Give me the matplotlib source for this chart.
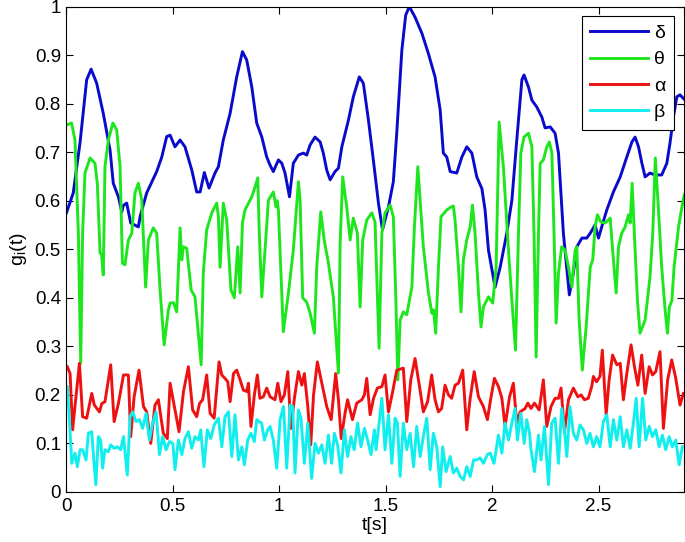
import numpy as np
import matplotlib as mpl
mpl.use("Agg")
import matplotlib.pyplot as plt

mpl.rcParams['font.family'] = ['Liberation Sans', 'DejaVu Sans']
mpl.rcParams['mathtext.default'] = 'regular'

# delta band
delta_t = [0.000, 0.032, 0.064, 0.095, 0.116, 0.142, 0.173, 0.205, 0.220, 0.244, 0.260, 0.267, 0.283,
           0.302, 0.338, 0.346, 0.377, 0.424, 0.448, 0.471, 0.487, 0.510, 0.534, 0.557, 0.589, 0.612,
           0.628, 0.648, 0.670, 0.698, 0.714, 0.737, 0.769, 0.800, 0.827, 0.847, 0.871, 0.894, 0.918,
           0.941, 0.957, 0.972, 0.996, 1.012, 1.027, 1.048, 1.066, 1.090, 1.113, 1.129, 1.145, 1.168,
           1.192, 1.207, 1.223, 1.239, 1.262, 1.278, 1.294, 1.325, 1.348, 1.376, 1.395, 1.419, 1.442,
           1.466, 1.485, 1.513, 1.536, 1.552, 1.576, 1.594, 1.611, 1.638, 1.670, 1.700, 1.732, 1.756,
           1.771, 1.787, 1.803, 1.834, 1.858, 1.881, 1.905, 1.928, 1.952, 1.967, 1.983, 2.014, 2.038,
           2.069, 2.093, 2.116, 2.140, 2.150, 2.171, 2.187, 2.210, 2.234, 2.249, 2.273, 2.296, 2.312,
           2.335, 2.363, 2.382, 2.398, 2.422, 2.445, 2.461, 2.484, 2.500, 2.515, 2.539, 2.570, 2.602,
           2.633, 2.657, 2.672, 2.688, 2.704, 2.719, 2.742, 2.766, 2.797, 2.821, 2.836, 2.852, 2.868,
           2.883, 2.900]
delta_v = [0.575, 0.616, 0.720, 0.849, 0.871, 0.842, 0.780, 0.704, 0.636, 0.608, 0.577, 0.590, 0.595,
           0.554, 0.546, 0.567, 0.616, 0.660, 0.690, 0.732, 0.735, 0.711, 0.725, 0.711, 0.663, 0.618,
           0.618, 0.658, 0.626, 0.657, 0.670, 0.725, 0.780, 0.855, 0.907, 0.890, 0.834, 0.760, 0.731,
           0.690, 0.673, 0.660, 0.684, 0.677, 0.657, 0.608, 0.677, 0.694, 0.698, 0.694, 0.715, 0.731,
           0.721, 0.698, 0.663, 0.643, 0.660, 0.667, 0.711, 0.766, 0.814, 0.855, 0.842, 0.766, 0.684,
           0.595, 0.540, 0.587, 0.639, 0.739, 0.910, 0.982, 1.000, 0.978, 0.945, 0.904, 0.855, 0.787,
           0.698, 0.690, 0.660, 0.657, 0.690, 0.711, 0.698, 0.649, 0.625, 0.581, 0.498, 0.422, 0.463,
           0.533, 0.601, 0.725, 0.849, 0.859, 0.834, 0.807, 0.793, 0.772, 0.750, 0.752, 0.739, 0.698,
           0.533, 0.406, 0.451, 0.505, 0.523, 0.523, 0.533, 0.550, 0.523, 0.546, 0.581, 0.618, 0.649,
           0.690, 0.721, 0.731, 0.711, 0.677, 0.649, 0.657, 0.653, 0.653, 0.677, 0.719, 0.772, 0.814,
           0.818, 0.810]

# theta band
theta_t = [0.000, 0.024, 0.040, 0.056, 0.067, 0.076, 0.087, 0.111, 0.134, 0.145, 0.158, 0.165, 0.173,
           0.181, 0.197, 0.218, 0.236, 0.252, 0.263, 0.275, 0.291, 0.307, 0.322, 0.338, 0.354, 0.372,
           0.385, 0.408, 0.424, 0.440, 0.459, 0.479, 0.487, 0.503, 0.518, 0.534, 0.542, 0.549, 0.565,
           0.586, 0.604, 0.633, 0.643, 0.659, 0.683, 0.706, 0.714, 0.722, 0.737, 0.753, 0.773, 0.789,
           0.805, 0.816, 0.827, 0.839, 0.871, 0.886, 0.899, 0.906, 0.918, 0.933, 0.949, 0.972, 0.985,
           0.990, 0.996, 1.019, 1.043, 1.066, 1.090, 1.098, 1.110, 1.129, 1.145, 1.165, 1.176, 1.195,
           1.211, 1.231, 1.254, 1.278, 1.286, 1.298, 1.317, 1.333, 1.348, 1.367, 1.380, 1.392, 1.411,
           1.435, 1.450, 1.469, 1.482, 1.497, 1.521, 1.536, 1.548, 1.557, 1.568, 1.583, 1.599, 1.623,
           1.635, 1.651, 1.662, 1.677, 1.701, 1.717, 1.725, 1.735, 1.748, 1.760, 1.787, 1.807, 1.818,
           1.826, 1.842, 1.854, 1.865, 1.881, 1.897, 1.908, 1.920, 1.936, 1.948, 1.959, 1.983, 2.003,
           2.019, 2.033, 2.053, 2.077, 2.093, 2.110, 2.124, 2.135, 2.150, 2.171, 2.187, 2.197, 2.207,
           2.218, 2.226, 2.241, 2.257, 2.269, 2.281, 2.291, 2.301, 2.312, 2.327, 2.343, 2.359, 2.375,
           2.390, 2.398, 2.409, 2.424, 2.442, 2.461, 2.473, 2.484, 2.495, 2.511, 2.531, 2.555, 2.570,
           2.583, 2.594, 2.609, 2.625, 2.641, 2.649, 2.658, 2.672, 2.683, 2.695, 2.719, 2.742, 2.755,
           2.767, 2.781, 2.797, 2.813, 2.824, 2.833, 2.845, 2.855, 2.876, 2.892, 2.903]
theta_v = [0.756, 0.760, 0.725, 0.533, 0.265, 0.533, 0.657, 0.688, 0.677, 0.636, 0.492, 0.490, 0.447,
           0.670, 0.725, 0.760, 0.746, 0.670, 0.471, 0.468, 0.519, 0.533, 0.616, 0.636, 0.601, 0.422,
           0.519, 0.544, 0.533, 0.416, 0.303, 0.375, 0.389, 0.390, 0.371, 0.544, 0.478, 0.505, 0.502,
           0.416, 0.402, 0.262, 0.451, 0.540, 0.575, 0.595, 0.567, 0.463, 0.595, 0.560, 0.416, 0.400,
           0.505, 0.410, 0.554, 0.581, 0.608, 0.628, 0.647, 0.533, 0.402, 0.498, 0.601, 0.618, 0.587,
           0.600, 0.581, 0.330, 0.410, 0.498, 0.639, 0.600, 0.400, 0.391, 0.368, 0.327, 0.463, 0.577,
           0.519, 0.471, 0.402, 0.245, 0.513, 0.649, 0.587, 0.519, 0.564, 0.533, 0.381, 0.519, 0.560,
           0.575, 0.556, 0.296, 0.533, 0.575, 0.591, 0.567, 0.395, 0.231, 0.354, 0.371, 0.365, 0.422,
           0.546, 0.670, 0.601, 0.505, 0.410, 0.368, 0.375, 0.327, 0.463, 0.567, 0.581, 0.587, 0.589,
           0.560, 0.463, 0.371, 0.478, 0.519, 0.546, 0.591, 0.533, 0.410, 0.340, 0.381, 0.402, 0.389,
           0.463, 0.762, 0.670, 0.498, 0.395, 0.292, 0.533, 0.698, 0.731, 0.739, 0.711, 0.533, 0.278,
           0.533, 0.677, 0.684, 0.711, 0.721, 0.698, 0.533, 0.348, 0.451, 0.505, 0.498, 0.463, 0.422,
           0.498, 0.505, 0.354, 0.251, 0.340, 0.463, 0.478, 0.546, 0.571, 0.556, 0.554, 0.564, 0.478,
           0.410, 0.505, 0.533, 0.546, 0.571, 0.554, 0.636, 0.498, 0.395, 0.327, 0.354, 0.443, 0.533,
           0.688, 0.587, 0.463, 0.375, 0.327, 0.381, 0.395, 0.463, 0.546, 0.587, 0.612]

# alpha band
alpha_t = [0.004, 0.017, 0.029, 0.040, 0.061, 0.076, 0.095, 0.119, 0.131, 0.155, 0.166, 0.181, 0.208,
           0.224, 0.244, 0.268, 0.291, 0.302, 0.318, 0.341, 0.362, 0.377, 0.396, 0.416, 0.432, 0.455,
           0.474, 0.487, 0.510, 0.529, 0.550, 0.573, 0.593, 0.612, 0.625, 0.640, 0.659, 0.675, 0.694,
           0.717, 0.730, 0.745, 0.758, 0.769, 0.785, 0.800, 0.816, 0.831, 0.847, 0.855, 0.867, 0.883,
           0.897, 0.909, 0.925, 0.941, 0.957, 0.980, 0.993, 1.008, 1.024, 1.040, 1.055, 1.071, 1.090,
           1.106, 1.118, 1.134, 1.148, 1.161, 1.179, 1.200, 1.223, 1.244, 1.265, 1.278, 1.291, 1.309,
           1.321, 1.344, 1.364, 1.388, 1.400, 1.411, 1.427, 1.443, 1.461, 1.482, 1.497, 1.513, 1.533,
           1.552, 1.583, 1.599, 1.618, 1.638, 1.659, 1.677, 1.697, 1.716, 1.732, 1.748, 1.763, 1.779,
           1.795, 1.810, 1.826, 1.842, 1.862, 1.881, 1.897, 1.916, 1.936, 1.959, 1.978, 1.994, 2.011,
           2.030, 2.046, 2.061, 2.082, 2.100, 2.116, 2.132, 2.155, 2.168, 2.183, 2.199, 2.221, 2.241,
           2.257, 2.277, 2.296, 2.312, 2.324, 2.340, 2.359, 2.382, 2.403, 2.418, 2.434, 2.452, 2.468,
           2.476, 2.491, 2.507, 2.518, 2.536, 2.550, 2.566, 2.586, 2.602, 2.617, 2.633, 2.653, 2.669,
           2.685, 2.703, 2.719, 2.738, 2.754, 2.769, 2.789, 2.805, 2.825, 2.844, 2.863, 2.883, 2.899]
alpha_v = [0.258, 0.244, 0.128, 0.176, 0.265, 0.155, 0.152, 0.203, 0.179, 0.165, 0.182, 0.186, 0.262,
           0.145, 0.182, 0.241, 0.241, 0.114, 0.196, 0.251, 0.176, 0.165, 0.100, 0.179, 0.190, 0.121,
           0.110, 0.224, 0.169, 0.124, 0.207, 0.258, 0.169, 0.155, 0.182, 0.190, 0.241, 0.162, 0.152,
           0.268, 0.241, 0.234, 0.227, 0.186, 0.244, 0.251, 0.231, 0.210, 0.207, 0.224, 0.135, 0.200,
           0.241, 0.193, 0.196, 0.214, 0.196, 0.190, 0.224, 0.186, 0.200, 0.248, 0.131, 0.193, 0.248,
           0.220, 0.244, 0.176, 0.097, 0.200, 0.268, 0.224, 0.176, 0.149, 0.244, 0.190, 0.110, 0.162,
           0.190, 0.149, 0.183, 0.190, 0.200, 0.234, 0.159, 0.193, 0.214, 0.217, 0.241, 0.165, 0.207,
           0.251, 0.255, 0.145, 0.231, 0.275, 0.217, 0.165, 0.186, 0.241, 0.190, 0.165, 0.172, 0.220,
           0.200, 0.193, 0.220, 0.224, 0.251, 0.128, 0.193, 0.248, 0.196, 0.176, 0.149, 0.193, 0.234,
           0.217, 0.193, 0.135, 0.196, 0.224, 0.142, 0.165, 0.172, 0.183, 0.172, 0.183, 0.169, 0.231,
           0.135, 0.176, 0.193, 0.193, 0.214, 0.124, 0.190, 0.214, 0.196, 0.200, 0.190, 0.193, 0.217,
           0.238, 0.227, 0.238, 0.292, 0.159, 0.231, 0.282, 0.262, 0.265, 0.190, 0.244, 0.303, 0.258,
           0.220, 0.282, 0.203, 0.258, 0.241, 0.248, 0.289, 0.131, 0.231, 0.272, 0.234, 0.179, 0.203]

# beta band
beta_t = [0.004, 0.014, 0.025, 0.040, 0.051, 0.064, 0.076, 0.092, 0.103, 0.119, 0.126, 0.138, 0.150,
          0.161, 0.170, 0.181, 0.197, 0.208, 0.224, 0.239, 0.255, 0.268, 0.286, 0.299, 0.311, 0.327,
          0.343, 0.358, 0.374, 0.390, 0.405, 0.421, 0.437, 0.452, 0.468, 0.484, 0.500, 0.510, 0.526,
          0.542, 0.557, 0.573, 0.589, 0.604, 0.620, 0.631, 0.646, 0.662, 0.678, 0.694, 0.714, 0.730,
          0.745, 0.761, 0.777, 0.792, 0.808, 0.824, 0.836, 0.852, 0.867, 0.883, 0.894, 0.905, 0.917,
          0.930, 0.946, 0.957, 0.972, 0.988, 1.004, 1.020, 1.035, 1.051, 1.063, 1.074, 1.090, 1.102,
          1.118, 1.134, 1.152, 1.168, 1.184, 1.200, 1.215, 1.231, 1.246, 1.259, 1.274, 1.290, 1.306,
          1.321, 1.337, 1.352, 1.368, 1.384, 1.400, 1.415, 1.431, 1.447, 1.455, 1.471, 1.482, 1.497,
          1.513, 1.529, 1.544, 1.555, 1.568, 1.583, 1.599, 1.615, 1.631, 1.646, 1.662, 1.677, 1.693,
          1.709, 1.724, 1.740, 1.756, 1.768, 1.784, 1.803, 1.818, 1.834, 1.850, 1.866, 1.881, 1.897,
          1.913, 1.928, 1.944, 1.959, 1.978, 1.991, 2.009, 2.030, 2.046, 2.061, 2.077, 2.093, 2.108,
          2.119, 2.135, 2.151, 2.163, 2.176, 2.183, 2.199, 2.218, 2.230, 2.246, 2.265, 2.280, 2.296,
          2.312, 2.327, 2.340, 2.351, 2.366, 2.382, 2.398, 2.413, 2.429, 2.445, 2.460, 2.476, 2.491,
          2.507, 2.523, 2.539, 2.555, 2.570, 2.586, 2.602, 2.617, 2.633, 2.649, 2.664, 2.677, 2.691,
          2.707, 2.722, 2.738, 2.754, 2.769, 2.785, 2.800, 2.816, 2.832, 2.847, 2.863, 2.879, 2.894]
beta_v = [0.217, 0.149, 0.059, 0.080, 0.052, 0.087, 0.087, 0.066, 0.121, 0.124, 0.080, 0.015, 0.114,
          0.107, 0.049, 0.087, 0.083, 0.097, 0.090, 0.093, 0.087, 0.114, 0.035, 0.155, 0.165, 0.145,
          0.149, 0.131, 0.162, 0.107, 0.142, 0.165, 0.077, 0.114, 0.087, 0.104, 0.100, 0.046, 0.107,
          0.077, 0.110, 0.124, 0.090, 0.114, 0.107, 0.128, 0.052, 0.128, 0.110, 0.138, 0.152, 0.093,
          0.155, 0.165, 0.073, 0.159, 0.066, 0.093, 0.056, 0.107, 0.121, 0.104, 0.149, 0.145, 0.142,
          0.107, 0.128, 0.135, 0.107, 0.049, 0.149, 0.176, 0.049, 0.179, 0.176, 0.039, 0.169, 0.152,
          0.059, 0.142, 0.028, 0.100, 0.080, 0.097, 0.059, 0.117, 0.059, 0.121, 0.097, 0.039, 0.128,
          0.073, 0.114, 0.087, 0.142, 0.093, 0.131, 0.107, 0.077, 0.128, 0.087, 0.149, 0.193, 0.087,
          0.159, 0.059, 0.152, 0.142, 0.032, 0.142, 0.087, 0.121, 0.052, 0.135, 0.073, 0.114, 0.152,
          0.046, 0.121, 0.093, 0.011, 0.093, 0.042, 0.073, 0.039, 0.049, 0.032, 0.025, 0.052, 0.032,
          0.066, 0.066, 0.070, 0.059, 0.077, 0.080, 0.059, 0.117, 0.080, 0.142, 0.107, 0.142, 0.172,
          0.107, 0.162, 0.100, 0.149, 0.121, 0.087, 0.042, 0.117, 0.066, 0.135, 0.015, 0.142, 0.152,
          0.059, 0.172, 0.128, 0.073, 0.176, 0.121, 0.107, 0.138, 0.128, 0.100, 0.121, 0.093, 0.114,
          0.093, 0.145, 0.159, 0.093, 0.149, 0.107, 0.155, 0.093, 0.128, 0.090, 0.142, 0.193, 0.093,
          0.193, 0.107, 0.135, 0.114, 0.128, 0.093, 0.117, 0.087, 0.114, 0.093, 0.107, 0.056, 0.093]

series = [
    (delta_t, delta_v, '#0A0ACC', u'\u03b4'),
    (theta_t, theta_v, '#1EE61E', u'\u03b8'),
    (alpha_t, alpha_v, '#EE1111', u'\u03b1'),
    (beta_t, beta_v, '#11EEEE', u'\u03b2'),
]

fig = plt.figure(figsize=(6.85, 5.42), dpi=100)
ax = fig.add_axes([0.097, 0.0923, 0.901, 0.8957])

for t, v, c, name in series:
    ax.plot(t, v, color=c, lw=2.1, label=name, solid_joinstyle='round')

ax.set_xlim(0, 2.9)
ax.set_ylim(0, 1)
ax.set_xticks([0, 0.5, 1, 1.5, 2, 2.5])
ax.set_xticklabels(['0', '0.5', '1', '1.5', '2', '2.5'])
ax.set_yticks(np.arange(0, 1.01, 0.1))
ax.set_yticklabels(['0', '0.1', '0.2', '0.3', '0.4', '0.5', '0.6', '0.7', '0.8', '0.9', '1'])
ax.tick_params(direction='in', top=True, right=True, length=5, width=0.8,
               labelsize=13.5, colors='black', pad=4)
for s in ax.spines.values():
    s.set_linewidth(0.8)

ax.set_xlabel('t[s]', fontsize=14, labelpad=2)
ax.set_ylabel('g$_i$(t)', fontsize=14, labelpad=4)

leg = ax.legend(loc='upper right', bbox_to_anchor=(0.984, 0.981), fontsize=14,
                handlelength=2.95, fancybox=False, framealpha=1, edgecolor='black',
                borderpad=0.45, labelspacing=0.45, handletextpad=0.3, borderaxespad=0)
leg.get_frame().set_linewidth(0.8)

fig.savefig('out.png', dpi=100)
